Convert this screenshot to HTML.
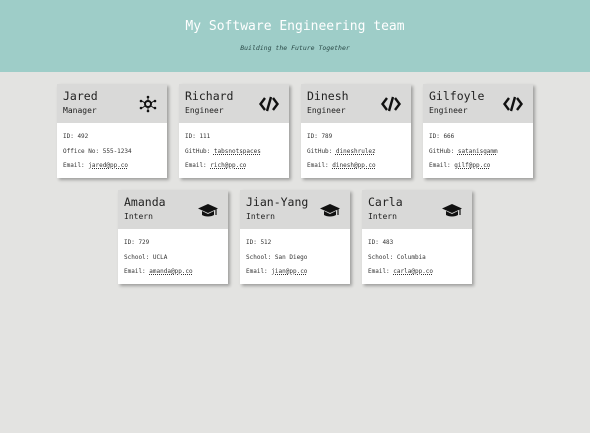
<!DOCTYPE html>
<html><head><style>
body{margin:0;width:590px;height:433px;background:#e3e3e1;font-family:"DejaVu Sans Mono","Liberation Mono",monospace;overflow:hidden;position:relative}
.hd{position:absolute;left:0;top:0;width:590px;height:72px;background:#9ecdc8;color:#fff;text-align:center}
.hd h1{margin:0;position:absolute;top:19px;width:100%;font-size:13px;font-weight:normal}
.hd p{margin:0;position:absolute;top:44px;width:100%;font-size:6.5px;font-style:italic;color:#2a4a48}
.card{position:absolute;width:110px;height:94px;background:#fff;box-shadow:2px 2px 3px rgba(0,0,0,.3)}
.top{height:39px;background:#d9d9d8;position:relative}
.n{position:absolute;left:6px;top:5px;font-size:11.5px;color:#222}
.r{position:absolute;left:6px;top:22px;font-size:8px;color:#222}
.ic{position:absolute;right:10px;top:11px}
.b{font-size:6px;color:#333;padding:10px 6px 0}
.b div{height:14.5px}
.u{text-decoration:underline dotted}
</style></head><body>
<div class="hd"><h1>My Software Engineering team</h1><p>Building the Future Together</p></div>

<svg width="0" height="0" style="position:absolute"><defs>
<g id="code"><path d="M6 3L1.5 9L6 15M14 3L18.5 9L14 15M12 2L8 16" fill="none" stroke="#111" stroke-width="2.4"/></g>
<g id="cap"><path d="M10 3L0 7.5L10 12L20 7.5Z" fill="#111"/><path d="M4 10v4c3 2 9 2 12 0v-4l-6 3z" fill="#111"/><path d="M18 8v6" stroke="#111" stroke-width="1.2"/></g>
</defs></svg>

<div class="card" style="left:57px;top:84px"><div class="top"><div class="n">Jared</div><div class="r">Manager</div>
<svg class="ic" width="18" height="18" viewBox="0 0 18 18"><circle cx="9" cy="9" r="3" fill="none" stroke="#111" stroke-width="2"/><g fill="#111"><circle cx="9" cy="2" r="1.3"/><circle cx="9" cy="16" r="1.3"/><circle cx="2" cy="6" r="1.3"/><circle cx="16" cy="6" r="1.3"/><circle cx="2" cy="13" r="1.3"/><circle cx="16" cy="13" r="1.3"/></g><path d="M9 3v3M9 12v3M3 6l3 2M15 6l-3 2M3 13l3-2M15 13l-3-2" stroke="#111"/></svg></div>
<div class="b"><div>ID: 492</div><div>Office No: 555-1234</div><div>Email: <span class="u">jared@pp.co</span></div></div></div>

<div class="card" style="left:179px;top:84px"><div class="top"><div class="n">Richard</div><div class="r">Engineer</div><svg class="ic" width="20" height="18"><use href="#code"/></svg></div>
<div class="b"><div>ID: 111</div><div>GitHub: <span class="u">tabsnotspaces</span></div><div>Email: <span class="u">rich@pp.co</span></div></div></div>

<div class="card" style="left:301px;top:84px"><div class="top"><div class="n">Dinesh</div><div class="r">Engineer</div><svg class="ic" width="20" height="18"><use href="#code"/></svg></div>
<div class="b"><div>ID: 789</div><div>GitHub: <span class="u">dineshrulez</span></div><div>Email: <span class="u">dinesh@pp.co</span></div></div></div>

<div class="card" style="left:423px;top:84px"><div class="top"><div class="n">Gilfoyle</div><div class="r">Engineer</div><svg class="ic" width="20" height="18"><use href="#code"/></svg></div>
<div class="b"><div>ID: 666</div><div>GitHub: <span class="u">satanisgamm</span></div><div>Email: <span class="u">gilf@pp.co</span></div></div></div>

<div class="card" style="left:118px;top:190px"><div class="top"><div class="n">Amanda</div><div class="r">Intern</div><svg class="ic" width="20" height="16"><use href="#cap"/></svg></div>
<div class="b"><div>ID: 729</div><div>School: UCLA</div><div>Email: <span class="u">amanda@pp.co</span></div></div></div>

<div class="card" style="left:240px;top:190px"><div class="top"><div class="n">Jian-Yang</div><div class="r">Intern</div><svg class="ic" width="20" height="16"><use href="#cap"/></svg></div>
<div class="b"><div>ID: 512</div><div>School: San Diego</div><div>Email: <span class="u">jian@pp.co</span></div></div></div>

<div class="card" style="left:362px;top:190px"><div class="top"><div class="n">Carla</div><div class="r">Intern</div><svg class="ic" width="20" height="16"><use href="#cap"/></svg></div>
<div class="b"><div>ID: 483</div><div>School: Columbia</div><div>Email: <span class="u">carla@pp.co</span></div></div></div>
</body></html>
